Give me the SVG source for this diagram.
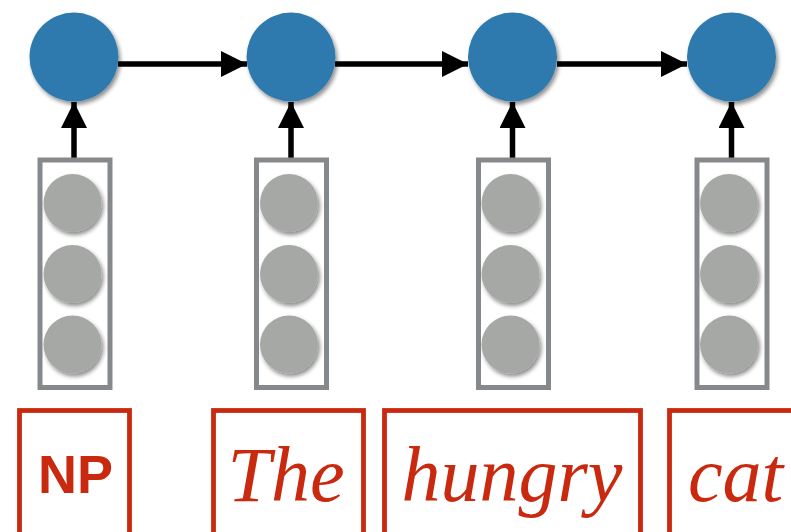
<svg xmlns="http://www.w3.org/2000/svg" width="791" height="532" viewBox="0 0 791 532">
<defs>
  <style>
    .hid { fill: #2d79ae; }
    .box { fill: none; stroke: #86898c; stroke-width: 5; }
    .unit { fill: #a6a8a6; }
    .tok { fill: none; stroke: #c9290e; stroke-width: 4.8; }
    .word { fill: #c9290e; font-family: "Liberation Serif", "Times New Roman", serif; font-style: italic; font-size: 78px; }
    .np { fill: #c9290e; font-family: "Liberation Sans", Arial, sans-serif; font-weight: bold; font-size: 54px; }
    .conn { stroke: #000; stroke-width: 5.5; fill: none; }
  </style>
  <filter id="sh" x="-30%" y="-30%" width="160%" height="160%">
    <feGaussianBlur in="SourceAlpha" stdDeviation="2"/>
    <feOffset dx="2" dy="2.5" result="b"/>
    <feComponentTransfer><feFuncA type="linear" slope="0.45"/></feComponentTransfer>
    <feMerge><feMergeNode/><feMergeNode in="SourceGraphic"/></feMerge>
  </filter>
  <marker id="ah" markerUnits="userSpaceOnUse" markerWidth="26" markerHeight="26" viewBox="0 0 25 25" refX="25" refY="12.5" orient="auto">
    <path d="M0,0 L25,12.5 L0,25 Z" fill="#000"/>
  </marker>
</defs>
<rect width="791" height="532" fill="#fff"/>

<g id="connectors">
  <line class="conn" x1="118" y1="64" x2="247" y2="64" marker-end="url(#ah)"/>
  <line class="conn" x1="335" y1="64" x2="468" y2="64" marker-end="url(#ah)"/>
  <line class="conn" x1="557" y1="64" x2="687" y2="64" marker-end="url(#ah)"/>
  <line class="conn" x1="74" y1="158" x2="74" y2="102" marker-end="url(#ah)"/>
  <line class="conn" x1="291" y1="158" x2="291" y2="102" marker-end="url(#ah)"/>
  <line class="conn" x1="512.5" y1="158" x2="512.5" y2="102" marker-end="url(#ah)"/>
  <line class="conn" x1="731.5" y1="158" x2="731.5" y2="102" marker-end="url(#ah)"/>
</g>

<g id="h1"><circle class="hid" cx="74" cy="57" r="44.5" filter="url(#sh)"/></g>
<g id="h2"><circle class="hid" cx="291" cy="57" r="44.5" filter="url(#sh)"/></g>
<g id="h3"><circle class="hid" cx="512.5" cy="57" r="44.5" filter="url(#sh)"/></g>
<g id="h4"><circle class="hid" cx="731.5" cy="57" r="44.5" filter="url(#sh)"/></g>

<g id="v1">
  <rect class="box" x="40" y="160" width="70" height="227.5"/>
  <circle class="unit" cx="72.5" cy="203" r="29" filter="url(#sh)"/>
  <circle class="unit" cx="72.5" cy="274" r="29" filter="url(#sh)"/>
  <circle class="unit" cx="72.5" cy="344.5" r="29" filter="url(#sh)"/>
</g>
<g id="v2">
  <rect class="box" x="256.5" y="160" width="70" height="227.5"/>
  <circle class="unit" cx="289" cy="203" r="29" filter="url(#sh)"/>
  <circle class="unit" cx="289" cy="274" r="29" filter="url(#sh)"/>
  <circle class="unit" cx="289" cy="344.5" r="29" filter="url(#sh)"/>
</g>
<g id="v3">
  <rect class="box" x="478.5" y="160" width="70" height="227.5"/>
  <circle class="unit" cx="510.5" cy="203" r="29" filter="url(#sh)"/>
  <circle class="unit" cx="510.5" cy="274" r="29" filter="url(#sh)"/>
  <circle class="unit" cx="510.5" cy="344.5" r="29" filter="url(#sh)"/>
</g>
<g id="v4">
  <rect class="box" x="697" y="160" width="70" height="227.5"/>
  <circle class="unit" cx="729" cy="203" r="29" filter="url(#sh)"/>
  <circle class="unit" cx="729" cy="274" r="29" filter="url(#sh)"/>
  <circle class="unit" cx="729" cy="344.5" r="29" filter="url(#sh)"/>
</g>

<g id="t1">
  <rect class="tok" x="19.5" y="410.5" width="110" height="160"/>
  <text class="np" x="75.5" y="493" text-anchor="middle">NP</text>
</g>
<g id="t2">
  <rect class="tok" x="213.5" y="410.5" width="150" height="160"/>
  <text class="word" x="286" y="500.5" text-anchor="middle">The</text>
</g>
<g id="t3">
  <rect class="tok" x="384.5" y="410.5" width="256" height="160"/>
  <text class="word" x="512" y="500.5" text-anchor="middle">hungry</text>
</g>
<g id="t4">
  <rect class="tok" x="669.5" y="410.5" width="200" height="160"/>
  <text class="word" x="688" y="500.5">cat</text>
</g>
</svg>
